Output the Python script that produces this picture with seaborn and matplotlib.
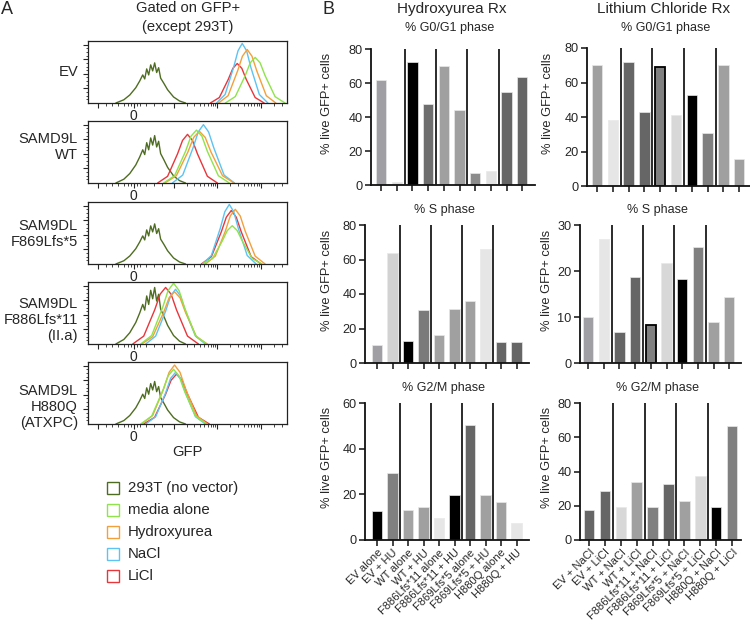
import matplotlib
matplotlib.use("Agg")
import matplotlib.pyplot as plt
import seaborn as sns
from matplotlib.patches import Rectangle

# ---------------- data ----------------
hu_labels = ["EV alone", "EV + HU", "WT alone", "WT + HU", "F886Lfs*11 alone", "F886Lfs*11 + HU",
             "F869Lfs*5 alone", "F869Lfs*5 + HU", "H880Q alone", "H880Q + HU"]
li_labels = ["EV + NaCl", "EV + LiCl", "WT + NaCl", "WT + LiCl", "F886Lfs*11 + NaCl", "F886Lfs*11 + LiCl",
             "F869Lfs*5 + NaCl", "F869Lfs*5 + LiCl", "H880Q + NaCl", "H880Q + LiCl"]
hu_g1 = [61.5, 2.0, 72.5, 47.5, 70.0, 44.0, 7.0, 8.5, 54.5, 63.5]
hu_s = [10.5, 63.5, 12.5, 31.0, 16.5, 31.5, 36.0, 66.0, 12.0, 12.0]
hu_g2 = [12.5, 29.5, 13.0, 14.5, 9.5, 19.5, 50.5, 19.5, 16.5, 7.5]
li_g1 = [70.0, 38.0, 72.0, 43.0, 69.0, 41.0, 52.5, 30.5, 70.0, 15.5]
li_s = [10.0, 27.0, 6.8, 18.8, 8.2, 21.8, 18.3, 25.3, 9.0, 14.3]
li_g2 = [17.5, 28.5, 19.5, 34.0, 19.5, 32.5, 22.5, 37.5, 19.0, 66.5]

row_labels = ["EV", "SAMD9L\nWT", "SAM9DL\nF869Lfs*5", "SAM9DL\nF886Lfs*11\n(II.a)", "SAMD9L\nH880Q\n(ATXPC)"]
legend_labels = ["293T (no vector)", "media alone", "Hydroxyurea", "NaCl", "LiCl"]

# 293T (no vector) histogram, same sample in every panel (x: GFP axis fraction, y: normalised)
t293_x = [0.14, 0.18, 0.21, 0.24, 0.26, 0.275, 0.285, 0.295, 0.305, 0.315, 0.325, 0.335,
          0.345, 0.355, 0.365, 0.38, 0.40, 0.43, 0.46, 0.49]
t293_y = [0.0, 0.08, 0.2, 0.38, 0.55, 0.7, 0.6, 0.85, 0.7, 0.95, 0.8, 1.0,
          0.76, 0.88, 0.62, 0.5, 0.33, 0.15, 0.05, 0.0]
t293_peak = [0.66, 0.78, 0.66, 0.93, 0.70]

# treated histograms per panel: (x list, y list)
ev_media = ([0.69, 0.74, 0.79, 0.815, 0.84, 0.865, 0.89, 0.94, 0.99], [0, 0.105, 0.45, 0.66, 0.75, 0.66, 0.45, 0.105, 0])
ev_hu = ([0.656, 0.704, 0.752, 0.776, 0.80, 0.824, 0.848, 0.896, 0.944], [0, 0.12, 0.53, 0.77, 0.88, 0.77, 0.53, 0.12, 0])
ev_nacl = ([0.646, 0.689, 0.732, 0.754, 0.775, 0.797, 0.818, 0.861, 0.904], [0, 0.14, 0.59, 0.86, 0.98, 0.86, 0.59, 0.14, 0])
ev_licl = ([0.615, 0.66, 0.705, 0.728, 0.75, 0.773, 0.795, 0.84, 0.885], [0, 0.09, 0.39, 0.57, 0.65, 0.57, 0.39, 0.09, 0])

wt_media = ([0.38, 0.435, 0.49, 0.5175, 0.545, 0.5725, 0.60, 0.655, 0.71], [0, 0.12, 0.52, 0.77, 0.87, 0.77, 0.52, 0.12, 0])
wt_hu = ([0.386, 0.444, 0.502, 0.531, 0.56, 0.589, 0.618, 0.676, 0.734], [0, 0.12, 0.51, 0.75, 0.85, 0.75, 0.51, 0.12, 0])
wt_nacl = ([0.424, 0.476, 0.528, 0.554, 0.58, 0.606, 0.632, 0.684, 0.736], [0, 0.13, 0.58, 0.84, 0.96, 0.84, 0.58, 0.13, 0])
wt_licl = ([0.35, 0.40, 0.45, 0.475, 0.50, 0.525, 0.55, 0.60, 0.65], [0, 0.11, 0.48, 0.70, 0.80, 0.70, 0.48, 0.11, 0])

f869_media = ([0.575, 0.625, 0.675, 0.70, 0.725, 0.75, 0.775, 0.825, 0.875], [0, 0.09, 0.38, 0.55, 0.63, 0.55, 0.38, 0.09, 0])
f869_hu = ([0.59, 0.64, 0.69, 0.715, 0.74, 0.765, 0.79, 0.84, 0.89], [0, 0.13, 0.54, 0.79, 0.90, 0.79, 0.54, 0.13, 0])
f869_nacl = ([0.575, 0.62, 0.665, 0.6875, 0.71, 0.7325, 0.755, 0.80, 0.845], [0, 0.14, 0.59, 0.86, 0.98, 0.86, 0.59, 0.14, 0])
f869_licl = ([0.57, 0.62, 0.67, 0.695, 0.72, 0.745, 0.77, 0.82, 0.87], [0, 0.12, 0.53, 0.77, 0.88, 0.77, 0.53, 0.12, 0])

f886_media = ([0.265, 0.32, 0.375, 0.4025, 0.43, 0.4575, 0.485, 0.54, 0.595], [0, 0.14, 0.6, 0.88, 1.0, 0.88, 0.6, 0.14, 0])
f886_hu = ([0.27, 0.325, 0.38, 0.4075, 0.435, 0.4625, 0.49, 0.545, 0.60], [0, 0.12, 0.52, 0.76, 0.86, 0.76, 0.52, 0.12, 0])
f886_nacl = ([0.29, 0.34, 0.39, 0.415, 0.44, 0.465, 0.49, 0.54, 0.59], [0, 0.13, 0.54, 0.79, 0.9, 0.79, 0.54, 0.13, 0])
f886_licl = ([0.225, 0.28, 0.335, 0.3625, 0.39, 0.4175, 0.445, 0.50, 0.555], [0, 0.13, 0.56, 0.82, 0.93, 0.82, 0.56, 0.13, 0])

h880_media = ([0.265, 0.32, 0.375, 0.4025, 0.43, 0.4575, 0.485, 0.54, 0.595], [0, 0.13, 0.54, 0.79, 0.9, 0.79, 0.54, 0.13, 0])
h880_hu = ([0.27, 0.325, 0.38, 0.4075, 0.435, 0.4625, 0.49, 0.545, 0.60], [0, 0.14, 0.58, 0.85, 0.97, 0.85, 0.58, 0.14, 0])
h880_nacl = ([0.29, 0.34, 0.39, 0.415, 0.44, 0.465, 0.49, 0.54, 0.59], [0, 0.12, 0.51, 0.75, 0.85, 0.75, 0.51, 0.12, 0])
h880_licl = ([0.28, 0.335, 0.39, 0.4175, 0.445, 0.4725, 0.50, 0.555, 0.61], [0, 0.11, 0.49, 0.72, 0.82, 0.72, 0.49, 0.11, 0])

panels = [
    (ev_licl, ev_nacl, ev_hu, ev_media),
    (wt_licl, wt_nacl, wt_hu, wt_media),
    (f869_licl, f869_nacl, f869_hu, f869_media),
    (f886_licl, f886_nacl, f886_hu, f886_media),
    (h880_licl, h880_nacl, h880_hu, h880_media),
]

# ---------------- style ----------------
sns.set_style("ticks")
plt.rcParams["font.family"] = ["Liberation Sans", "DejaVu Sans"]

C293 = "#4f6d22"
CMED = "#8fe34b"
CHU = "#f2a03c"
CNA = "#5cc3f2"
CLI = "#e8363b"
legend_colors = [C293, CMED, CHU, CNA, CLI]
treat_colors = [CLI, CNA, CHU, CMED]

W, H = 750, 624
fig = plt.figure(figsize=(W / 100, H / 100), dpi=100)


def px_axes(x0, y0, x1, y1):
    return fig.add_axes([x0 / W, 1 - y1 / H, (x1 - x0) / W, (y1 - y0) / H])


def ftext(x, y, s, **kw):
    fig.text(x / W, 1 - y / H, s, **kw)


# ---------------- panel A ----------------
ftext(1, 1, "A", fontsize=13, ha="left", va="top")
ftext(188, 8, "Gated on GFP+", fontsize=10.6, ha="center", va="center")
ftext(188, 27, "(except 293T)", fontsize=10.6, ha="center", va="center")

box_tops = [41, 121, 202, 282, 362]
label_centres = [72, 147, 234, 320, 407]
major_x = [0.05, 0.23, 0.43, 0.65, 0.87]
minor_x = [0.09, 0.12, 0.15, 0.18, 0.2, 0.215, 0.245, 0.26, 0.29, 0.33, 0.37,
           0.496, 0.535, 0.562, 0.584, 0.601, 0.616, 0.629, 0.64,
           0.716, 0.755, 0.782, 0.804, 0.821, 0.836, 0.849, 0.86, 0.936, 0.975]
for i, top in enumerate(box_tops):
    ax = px_axes(88, top, 287, top + 62)
    sns.lineplot(x=t293_x, y=[v * t293_peak[i] for v in t293_y], ax=ax, color=C293,
                 lw=1.0, sort=False, estimator=None)
    for (xs, ys), col in zip(panels[i], treat_colors):
        sns.lineplot(x=xs, y=ys, ax=ax, color=col, lw=1.0, sort=False, estimator=None)
    ax.set_xlim(0, 1)
    ax.set_ylim(0, 1.02)
    ax.set_xlabel("")
    ax.set_ylabel("")
    for sp in ax.spines.values():
        sp.set_visible(True)
        sp.set_linewidth(0.9)
        sp.set_color("#222222")
    ax.set_xticks(major_x)
    ax.set_xticklabels(["", "0", "", "", ""], fontsize=10)
    ax.set_xticks(minor_x, minor=True)
    ax.set_yticks([0.24, 0.48, 0.72, 0.96])
    ax.set_yticklabels([])
    ax.set_yticks([0.06 * k for k in range(1, 17)], minor=True)
    ax.tick_params(axis="both", which="major", direction="out", length=3.5, width=0.8, pad=1)
    ax.tick_params(axis="both", which="minor", direction="out", length=1.8, width=0.6)
    ftext(78, label_centres[i], row_labels[i], fontsize=10.6, ha="right", va="center",
          linespacing=1.15)

ftext(187, 452, "GFP", fontsize=10.6, ha="center", va="center")

for k, (lab, col) in enumerate(zip(legend_labels, legend_colors)):
    yc = 488 + 22 * k
    fig.patches.append(Rectangle(((107) / W, 1 - (yc + 6) / H), 12 / W, 12 / H,
                                 transform=fig.transFigure, fill=False, edgecolor=col, lw=1.0))
    ftext(128, yc, lab, fontsize=10.8, ha="left", va="center")

# ---------------- panel B ----------------
ftext(322, 1, "B", fontsize=13, ha="left", va="top")
ftext(452, 9, "Hydroxyurea Rx", fontsize=11, ha="center", va="center")
ftext(664, 9, "Lithium Chloride Rx", fontsize=11, ha="center", va="center")

hu_g1_colors = ["#a0a0a4", "#dcdcdc", "#000000", "#6e6e6e", "#a0a0a0", "#a0a0a0", "#8c8c8c", "#e2e2e2", "#666666", "#666666"]
hu_s_colors = ["#a0a0a4", "#d2d2d2", "#000000", "#7a7a7a", "#a3a3a3", "#a0a0a0", "#a0a0a0", "#e6e6e6", "#666666", "#666666"]
hu_g2_colors = ["#000000", "#808080", "#a3a3a3", "#a0a0a0", "#e6e6e6", "#000000", "#666666", "#a0a0a0", "#a0a0a0", "#e6e6e6"]
li_g1_colors = ["#a0a0a0", "#e6e6e6", "#666666", "#666666", "#808080", "#d8d8d8", "#000000", "#808080", "#a0a0a0", "#a0a0a0"]
li_s_colors = ["#a0a0a4", "#e6e6e6", "#666666", "#666666", "#808080", "#d8d8d8", "#000000", "#808080", "#a0a0a0", "#a0a0a0"]
li_g2_colors = ["#666666", "#666666", "#d8d8d8", "#a0a0a0", "#808080", "#666666", "#a0a0a0", "#d8d8d8", "#000000", "#808080"]

charts = [
    # labels, values, colors, (x0,y0,x1,y1), first tick px, spacing, ymax, yticks, title, title y, outlined, show labels, ylabel x
    (hu_labels, hu_g1, hu_g1_colors, (371, 49, 535, 185), 381, 15.7, 80, [0, 20, 40, 60, 80], "% G0/G1 phase", 28, [], False, 327),
    (hu_labels, hu_s, hu_s_colors, (365, 225, 529, 363), 377, 15.5, 80, [0, 20, 40, 60, 80], "% S phase", 210, [], False, 327),
    (hu_labels, hu_g2, hu_g2_colors, (365, 403, 529, 540), 377, 15.5, 60, [0, 20, 40, 60], "% G2/M phase", 388, [], True, 327),
    (li_labels, li_g1, li_g1_colors, (587, 48, 750, 186), 597, 15.8, 80, [0, 20, 40, 60, 80], "% G0/G1 phase", 28, [4], False, 548),
    (li_labels, li_s, li_s_colors, (580, 225, 741, 363), 588, 15.7, 30, [0, 10, 20, 30], "% S phase", 210, [4], False, 547),
    (li_labels, li_g2, li_g2_colors, (580, 403, 741, 540), 589, 15.9, 80, [0, 20, 40, 60, 80], "% G2/M phase", 388, [], True, 547),
]

for labels, vals, cols, (x0, y0, x1, y1), t0, dx, ymax, yt, title, ty, outlined, showlab, ylx in charts:
    ax = px_axes(x0, y0, x1, y1)
    sns.barplot(x=labels, y=vals, hue=labels, palette=cols, legend=False, width=0.66,
                saturation=1, ax=ax)
    for j, p in enumerate(ax.patches):
        if j in outlined:
            p.set_edgecolor("#000000")
            p.set_linewidth(1.3)
        else:
            p.set_edgecolor("#e8e8e8")
            p.set_linewidth(0.5)
    ax.vlines([1.5, 3.5, 5.5, 7.5], 0, ymax, color="#1a1a1a", lw=1.3, zorder=3)
    ax.set_xlim((x0 - t0) / dx, (x1 - t0) / dx)
    ax.set_ylim(0, ymax)
    ax.set_yticks(yt)
    ax.set_xlabel("")
    ax.set_ylabel("")
    sns.despine(ax=ax)
    for sp in ("left", "bottom"):
        ax.spines[sp].set_linewidth(1.3)
        ax.spines[sp].set_color("#111111")
    ax.tick_params(axis="both", direction="out", length=4.5, width=1.1, color="#111111",
                   labelsize=9.2, pad=1.5)
    ax.set_xticks(range(len(labels)))
    if showlab:
        ax.set_xticklabels(labels, rotation=45, ha="right", rotation_mode="anchor", fontsize=8.0)
        ax.tick_params(axis="x", pad=1.0)
    else:
        ax.set_xticklabels([])
    ftext((x0 + x1) / 2 - 3, ty, title, fontsize=9, ha="center", va="center")
    ftext(ylx, (y0 + y1) / 2 - 14, "% live GFP+ cells", fontsize=9.3, rotation=90,
          ha="center", va="center")

fig.savefig("out.png", dpi=100)
